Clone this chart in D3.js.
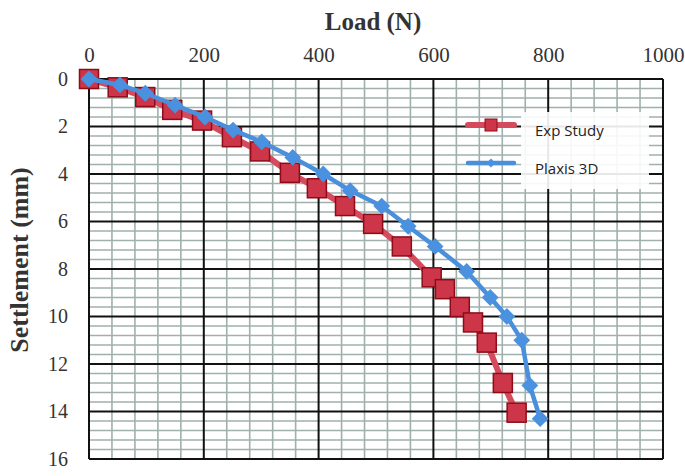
<!DOCTYPE html>
<html>
<head>
<meta charset="utf-8">
<script src="https://cdn.jsdelivr.net/npm/d3@7"></script>
<style>
  body { margin: 0; background: #fff; }
  svg { display: block; }
</style>
</head>
<body>
<div id="chart"></div>
<script>
// Data
const expLoad = [0, 50, 98, 145, 197, 249, 298, 350, 397, 446, 495, 545, 597, 620, 646, 669, 693, 721, 745];
const expSettle = [0, 0.35, 0.76, 1.3, 1.75, 2.45, 3.05, 3.95, 4.6, 5.35, 6.1, 7.05, 8.35, 8.85, 9.6, 10.25, 11.1, 12.8, 14.05];

const plxLoad = [0, 54, 98, 150, 202, 251, 301, 355, 408, 455, 510, 556, 603, 658, 699, 728, 754, 768, 786];
const plxSettle = [0, 0.25, 0.6, 1.1, 1.6, 2.15, 2.65, 3.3, 4.0, 4.7, 5.35, 6.2, 7.05, 8.1, 9.2, 10.0, 11.0, 12.9, 14.3];

const xTicks = [0, 200, 400, 600, 800, 1000];
const yTicks = [0, 2, 4, 6, 8, 10, 12, 14, 16];

const width = 685, height = 476;
const margin = { top: 79, right: 22, bottom: 17, left: 89 };

const svg = d3.select("#chart").append("svg")
    .attr("width", width)
    .attr("height", height);

const x = d3.scaleLinear().domain([0, 1000]).range([margin.left, width - margin.right]);
const y = d3.scaleLinear().domain([0, 16]).range([margin.top, height - margin.bottom]);

// minor grid
const grid = svg.append("g");
grid.selectAll(".vminor")
    .data(d3.range(0, 1001, 40).filter(v => v % 200 !== 0))
    .enter().append("line")
    .attr("x1", d => x(d)).attr("x2", d => x(d))
    .attr("y1", y(0)).attr("y2", y(16))
    .attr("stroke", "#9fb0ad").attr("stroke-width", 1.6);
grid.selectAll(".hminor")
    .data(d3.range(0, 40).map(i => i * 0.4).filter(v => Math.abs(v / 2 - Math.round(v / 2)) > 1e-6))
    .enter().append("line")
    .attr("x1", x(0)).attr("x2", x(1000))
    .attr("y1", d => y(d)).attr("y2", d => y(d))
    .attr("stroke", "#9fb0ad").attr("stroke-width", 1.6);

// major grid
grid.selectAll(".vmajor")
    .data(xTicks)
    .enter().append("line")
    .attr("x1", d => x(d)).attr("x2", d => x(d))
    .attr("y1", y(0)).attr("y2", y(16))
    .attr("stroke", "#111").attr("stroke-width", 2);
grid.selectAll(".hmajor")
    .data(yTicks)
    .enter().append("line")
    .attr("x1", x(0)).attr("x2", x(1000))
    .attr("y1", d => y(d)).attr("y2", d => y(d))
    .attr("stroke", "#111").attr("stroke-width", 2);

// axes (labels only)
const xAxis = svg.append("g")
    .attr("transform", `translate(0,${margin.top - 14})`)
    .call(d3.axisTop(x).tickValues(xTicks).tickSize(0).tickFormat(d3.format("d")));
xAxis.select(".domain").remove();
xAxis.selectAll("text")
    .style("font-family", "'Liberation Serif', serif")
    .style("font-size", "21px")
    .style("fill", "#333");

const yAxis = svg.append("g")
    .attr("transform", `translate(${margin.left - 21},0)`)
    .call(d3.axisLeft(y).tickValues(yTicks).tickSize(0));
yAxis.select(".domain").remove();
yAxis.selectAll("text")
    .attr("x", 0)
    .style("font-family", "'Liberation Serif', serif")
    .style("font-size", "20px")
    .style("fill", "#333");

// titles
svg.append("text")
    .attr("x", 373)
    .attr("y", 30)
    .attr("text-anchor", "middle")
    .style("font-family", "'Liberation Serif', serif")
    .style("font-size", "25px")
    .style("font-weight", "bold")
    .style("fill", "#333")
    .text("Load (N)");

svg.append("text")
    .attr("transform", "translate(28,260) rotate(-90)")
    .attr("text-anchor", "middle")
    .style("font-family", "'Liberation Serif', serif")
    .style("font-size", "26px")
    .style("font-weight", "bold")
    .style("fill", "#333")
    .text("Settlement (mm)");

// legend background
svg.append("rect")
    .attr("x", 521).attr("y", 112)
    .attr("width", 128).attr("height", 77)
    .attr("fill", "#fff").attr("opacity", 0.9);

const line = d3.line().x(d => x(d[0])).y(d => y(d[1]));
const expData = expLoad.map((v, i) => [v, expSettle[i]]);
const plxData = plxLoad.map((v, i) => [v, plxSettle[i]]);

const redLine = "#d64a5e", redFill = "#cc3648", redStroke = "#8e0c18";
const blueLine = "#4a8fdc", blueFill = "#4a92e0";

// Exp Study
svg.append("path")
    .datum(expData)
    .attr("d", line)
    .attr("fill", "none")
    .attr("stroke", redLine)
    .attr("stroke-width", 6);
svg.selectAll(".sq")
    .data(expData)
    .enter().append("rect")
    .attr("x", d => x(d[0]) - 9.5).attr("y", d => y(d[1]) - 9.5)
    .attr("width", 19).attr("height", 19)
    .attr("fill", redFill)
    .attr("stroke", redStroke)
    .attr("stroke-width", 1.5);

// Plaxis 3D
svg.append("path")
    .datum(plxData)
    .attr("d", line)
    .attr("fill", "none")
    .attr("stroke", blueLine)
    .attr("stroke-width", 4.5);
svg.selectAll(".dm")
    .data(plxData)
    .enter().append("path")
    .attr("d", d3.symbol().type(d3.symbolDiamond2).size(180))
    .attr("transform", d => `translate(${x(d[0])},${y(d[1])})`)
    .attr("fill", blueFill);

// legend
const legend = [
    { label: "Exp Study", y: 125, color: redLine, w: 6, type: "sq" },
    { label: "Plaxis 3D", y: 163, color: blueLine, w: 4.5, type: "dm" }
];
legend.forEach(l => {
    svg.append("line")
        .attr("x1", 468).attr("x2", 514)
        .attr("y1", l.y).attr("y2", l.y)
        .attr("stroke", l.color).attr("stroke-width", l.w)
        .attr("stroke-linecap", "round");
    if (l.type === "sq") {
        svg.append("rect")
            .attr("x", 485).attr("y", l.y - 6)
            .attr("width", 12).attr("height", 12)
            .attr("fill", redFill).attr("stroke", redStroke);
    } else {
        svg.append("path")
            .attr("d", d3.symbol().type(d3.symbolDiamond2).size(50))
            .attr("transform", `translate(491,${l.y})`)
            .attr("fill", blueFill);
    }
    svg.append("text")
        .attr("x", 535).attr("y", l.y + 11)
        .style("font-family", "'Open Sans', sans-serif")
        .style("font-size", "15px")
        .style("fill", "#222")
        .text(l.label);
});
</script>
</body>
</html>
